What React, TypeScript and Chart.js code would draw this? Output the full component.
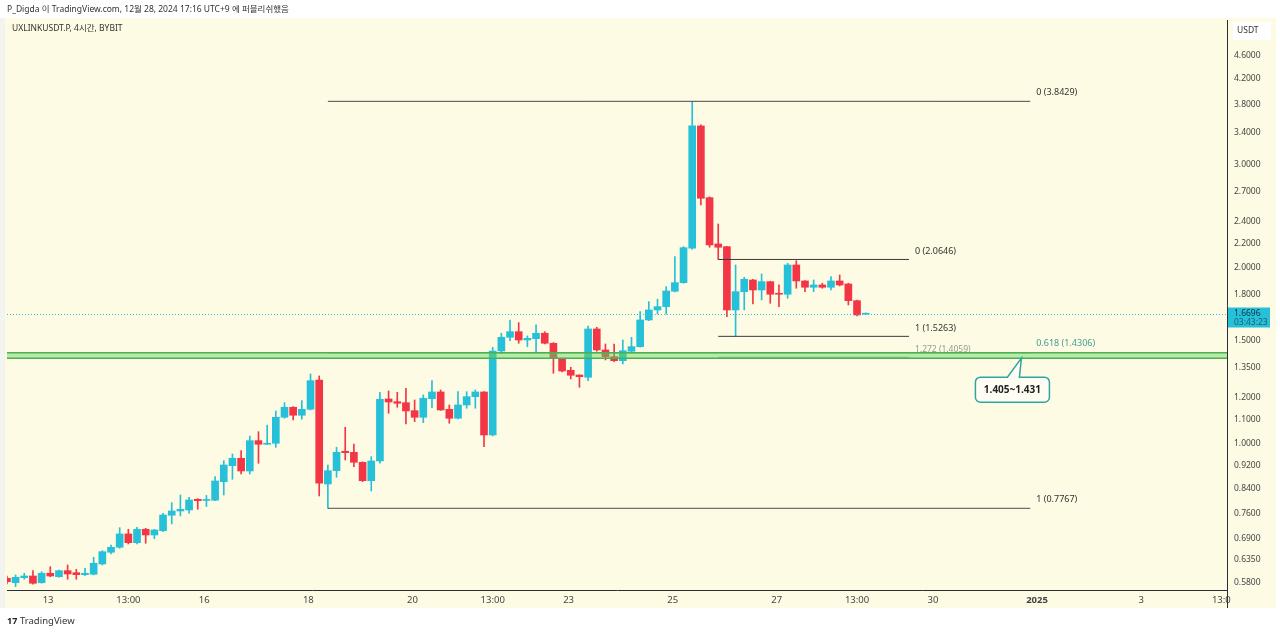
import React, { useEffect, useRef } from "react";
import { Chart, registerables } from "chart.js";

Chart.register(...registerables);

const W = 1280;
const H = 634;
const FONT = "'Noto Sans', 'Noto Sans CJK KR', sans-serif";
const BG = "#fefbe4";
const UP = "#26c0d9";
const DOWN = "#f23645";

// ---- data (4h candles, time in days since Dec 13 00:00 UTC+9) ----
const FIRST_CANDLE_T = -0.7917; // Dec 12 05:00
const CANDLE_STEP = 1 / 6; // 4 hours

const OPEN = [
  0.590, 0.5799, 0.5914, 0.5953, 0.5799, 0.6017, 0.5937, 0.6079, 0.6031, 0.5984,
  0.5993, 0.6241, 0.6534, 0.6664, 0.7022, 0.6786, 0.7152, 0.6994, 0.7113, 0.7557,
  0.7685, 0.7716, 0.8047, 0.8009, 0.8016, 0.8623, 0.9183, 0.9454, 0.8993, 1.0131,
  0.9988, 1.0028, 1.1106, 1.1551, 1.1194, 1.1461, 1.2859, 0.8545, 0.9004, 0.9717,
  0.9679, 0.9306, 0.8657, 0.9354, 1.1934, 1.1808, 1.1762, 1.1398, 1.1106, 1.1948,
  1.2267, 1.1461, 1.1063, 1.1656, 1.2043, 1.2267, 1.0360, 1.4411, 1.5208, 1.5547,
  1.5047, 1.5125, 1.5450, 1.4854, 1.3982, 1.3359, 1.3114, 1.2997, 1.5713, 1.4468,
  1.4092, 1.3872, 1.4394, 1.4657, 1.6278, 1.6931, 1.7152, 1.8221, 1.8848, 2.1576,
  3.4887, 2.6322, 2.1944, 2.1712, 1.6931, 1.8192, 1.9048, 1.8315, 1.8922, 1.8079,
  1.8008, 2.0205, 1.8974, 1.8510, 1.8679, 1.8510, 1.8974, 1.8752, 1.7561, 1.6650,
];
const HIGH = [
  0.595, 0.5977, 0.6017, 0.6079, 0.6054, 0.6175, 0.6095, 0.6216, 0.6112, 0.6136,
  0.6407, 0.6576, 0.6724, 0.7197, 0.7152, 0.7209, 0.7181, 0.7150, 0.7616, 0.7941,
  0.8184, 0.8111, 0.8066, 0.8168, 0.8794, 0.9365, 0.9615, 0.9740, 1.0319, 1.0495,
  1.0775, 1.1385, 1.1762, 1.1580, 1.1855, 1.3166, 1.3063, 0.9208, 0.9871, 1.0678,
  1.0000, 0.9320, 0.9513, 1.2252, 1.2315, 1.2252, 1.2447, 1.1887, 1.2123, 1.2824,
  1.2364, 1.1656, 1.2281, 1.2281, 1.2364, 1.2290, 1.4623, 1.5450, 1.6278, 1.6106,
  1.5287, 1.5962, 1.5547, 1.4889, 1.4000, 1.3517, 1.3120, 1.5899, 1.5818, 1.4813,
  1.4813, 1.5047, 1.5208, 1.6818, 1.7493, 1.7659, 1.8555, 2.0875, 2.1712, 3.8429,
  3.5024, 2.6400, 2.3736, 2.1750, 2.0205, 1.9252, 1.9101, 1.9503, 1.8950, 1.8679,
  2.0340, 2.0549, 1.9000, 1.9048, 1.8803, 1.9298, 1.9427, 1.8803, 1.7608, 1.6730,
];
const LOW = [
  0.577, 0.5708, 0.5877, 0.5767, 0.5785, 0.5937, 0.5923, 0.5877, 0.5877, 0.5960,
  0.5977, 0.6216, 0.6491, 0.6638, 0.6751, 0.6751, 0.6769, 0.6893, 0.7085, 0.7303,
  0.7536, 0.7616, 0.7737, 0.7822, 0.8003, 0.8184, 0.8705, 0.8888, 0.8888, 0.9270,
  0.9980, 0.9871, 1.1063, 1.0989, 1.1019, 1.1429, 0.8152, 0.7767, 0.8774, 0.9391,
  0.9147, 0.8623, 0.8314, 0.9270, 1.1282, 1.1551, 1.0818, 1.0916, 1.0873, 1.1533,
  1.1410, 1.0847, 1.1032, 1.1506, 1.1506, 0.9894, 1.0319, 1.4282, 1.5006, 1.4854,
  1.4657, 1.4282, 1.4813, 1.3202, 1.3270, 1.2910, 1.2496, 1.2824, 1.4394, 1.3911,
  1.3818, 1.3693, 1.4315, 1.4623, 1.6234, 1.6666, 1.6666, 1.8172, 1.8803, 2.1490,
  2.5577, 2.1661, 2.0646, 1.6490, 1.5263, 1.6931, 1.7333, 1.7608, 1.7382, 1.7152,
  1.7728, 1.8438, 1.8192, 1.8192, 1.8438, 1.8315, 1.8605, 1.7267, 1.6537, 1.6630,
];
const CLOSE = [
  0.582, 0.5923, 0.5953, 0.5785, 0.6017, 0.5953, 0.6079, 0.6000, 0.5984, 0.6017,
  0.6258, 0.6550, 0.6664, 0.7022, 0.6786, 0.7152, 0.6994, 0.7133, 0.7566, 0.7685,
  0.7737, 0.8025, 0.8003, 0.8041, 0.8647, 0.9208, 0.9454, 0.8993, 1.0131, 0.9988,
  1.0028, 1.1106, 1.1551, 1.1194, 1.1461, 1.2824, 0.8569, 0.9004, 0.9679, 0.9664,
  0.9306, 0.8657, 0.9354, 1.1920, 1.1794, 1.1734, 1.1385, 1.1106, 1.1967, 1.2267,
  1.1429, 1.1063, 1.1656, 1.2043, 1.2267, 1.0360, 1.4411, 1.5208, 1.5547, 1.5047,
  1.5148, 1.5450, 1.4854, 1.4003, 1.3322, 1.3099, 1.3027, 1.5713, 1.4468, 1.4092,
  1.3872, 1.4428, 1.4657, 1.6278, 1.6931, 1.7152, 1.8243, 1.8848, 2.1626, 3.4887,
  2.6259, 2.1857, 2.1661, 1.6931, 1.8192, 1.9101, 1.8315, 1.8922, 1.8008, 1.8008,
  2.0205, 1.8974, 1.8510, 1.8679, 1.8510, 1.8974, 1.8679, 1.7561, 1.6601, 1.6696,
];

const X_TICK_POS = [0, 1.5417, 3, 5, 7, 8.5417, 10, 12, 14, 15.5417, 17, 19, 21, 22.5417];
const X_TICK_LABELS = ["13", "13:00", "16", "18", "20", "13:00", "23", "25", "27", "13:00", "30", "2025", "3", "13:0"];
const X_MIN = -0.79;
const X_MAX = 22.65;

const Y_TICKS = [0.58, 0.635, 0.69, 0.76, 0.84, 0.92, 1.0, 1.1, 1.2, 1.35, 1.5, 1.8, 2.0, 2.2, 2.4, 2.7, 3.0, 3.4, 3.8, 4.2, 4.6];
const Y_MIN = 0.5634;
const Y_MAX = 5.29;

const LAST_PRICE = 1.6696;
const COUNTDOWN = "03:43:23";

// Fibonacci retracement (big): from swing low candle to end time
const FIB_BIG_START = 37; // candle index
const FIB_BIG_END_T = 18.87;
const FIB_BIG_RATIOS = ["0", "0.618", "1"];
const FIB_BIG_PRICES = [3.8429, 1.4306, 0.7767];

// Fibonacci (small)
const FIB_SMALL_START = 82;
const FIB_SMALL_END_T = 16.54;
const FIB_SMALL_RATIOS = ["0", "1", "1.272"];
const FIB_SMALL_PRICES = [2.0646, 1.5263, 1.4059];

// Support zone
const ZONE_TOP = 1.431;
const ZONE_BOTTOM = 1.401;
const ZONE_LABEL = "1.405~1.431";
const ZONE_CALLOUT_T = 18.7;

const HEADER = "P_Digda 이 TradingView.com, 12월 28, 2024 17:16 UTC+9 에 퍼블리쉬했음";
const TITLE = "UXLINKUSDT.P, 4시간, BYBIT";
const CURRENCY = "USDT";

const candleT = (i: number) => FIRST_CANDLE_T + i * CANDLE_STEP;

export default function App() {
  const ref = useRef<HTMLCanvasElement | null>(null);

  useEffect(() => {
    const canvas = ref.current;
    if (!canvas) return;
    const colors = OPEN.map((o, i) => (CLOSE[i] >= o ? UP : DOWN));
    const wicks = OPEN.map((_, i) => ({ x: candleT(i), y: [LOW[i], HIGH[i]] }));
    const bodies = OPEN.map((o, i) => ({ x: candleT(i), y: [o, CLOSE[i]] }));

    const lineDs = (from: number, to: number, p: number, color: string) => ({
      type: "line" as const,
      data: [
        { x: from, y: p },
        { x: to, y: p },
      ],
      borderColor: color,
      borderWidth: 1,
      pointRadius: 0,
      fill: false,
      order: 0,
    });

    const fibDatasets: any[] = [];
    FIB_BIG_PRICES.forEach((p, i) =>
      fibDatasets.push(lineDs(candleT(FIB_BIG_START), FIB_BIG_END_T, p, FIB_BIG_RATIOS[i] === "0.618" ? "#4caf8a" : "#4a4a4a"))
    );
    FIB_SMALL_PRICES.forEach((p, i) =>
      fibDatasets.push(lineDs(candleT(FIB_SMALL_START), FIB_SMALL_END_T, p, FIB_SMALL_RATIOS[i] === "1.272" ? "#9aae9a" : "#3a3a3a"))
    );

    const decor = {
      id: "decor",
      beforeDraw(chart: any) {
        const { ctx } = chart;
        ctx.save();
        ctx.fillStyle = "#ffffff";
        ctx.fillRect(0, 0, W, H);
        ctx.fillStyle = "#f3f3ef";
        ctx.fillRect(0, 18, 7, 590);
        ctx.fillStyle = BG;
        ctx.fillRect(5, 18, 1271, 590);
        ctx.restore();
      },
      afterDatasetsDraw(chart: any) {
        const { ctx, chartArea: a, scales } = chart;
        const y = scales.y;
        ctx.save();
        // zone band
        const yt = y.getPixelForValue(ZONE_TOP);
        const yb = y.getPixelForValue(ZONE_BOTTOM);
        ctx.fillStyle = "rgba(100,215,100,0.45)";
        ctx.fillRect(a.left, yt, a.right - a.left, yb - yt);
        ctx.strokeStyle = "#4caf50";
        ctx.lineWidth = 1.5;
        ctx.beginPath();
        ctx.moveTo(a.left, yt);
        ctx.lineTo(a.right, yt);
        ctx.moveTo(a.left, yb);
        ctx.lineTo(a.right, yb);
        ctx.stroke();
        // last price dotted line
        const yl = Math.round(y.getPixelForValue(LAST_PRICE)) + 0.5;
        ctx.strokeStyle = UP;
        ctx.lineWidth = 1;
        ctx.setLineDash([1, 2]);
        ctx.beginPath();
        ctx.moveTo(a.left, yl);
        ctx.lineTo(a.right, yl);
        ctx.stroke();
        ctx.restore();
      },
      afterDraw(chart: any) {
        const { ctx, chartArea: a, scales } = chart;
        const x = scales.x;
        const y = scales.y;
        ctx.save();
        // axis extension line
        ctx.strokeStyle = "#2a2e39";
        ctx.lineWidth = 1;
        ctx.beginPath();
        ctx.moveTo(a.right + 0.5, a.bottom);
        ctx.lineTo(a.right + 0.5, 608);
        ctx.stroke();

        ctx.textBaseline = "middle";
        ctx.textAlign = "left";
        // header
        ctx.fillStyle = "#333";
        ctx.font = `8.5px ${FONT}`;
        ctx.fillText(HEADER, 7, 10);
        ctx.fillText(TITLE, 12, 29);

        // fib labels
        ctx.font = `9px ${FONT}`;
        FIB_BIG_PRICES.forEach((p, i) => {
          const px = x.getPixelForValue(FIB_BIG_END_T) + 6;
          const py = y.getPixelForValue(p) - 9;
          ctx.fillStyle = FIB_BIG_RATIOS[i] === "0.618" ? "#3f9c95" : "#333";
          ctx.fillText(`${FIB_BIG_RATIOS[i]} (${p.toFixed(4)})`, px, py);
        });
        FIB_SMALL_PRICES.forEach((p, i) => {
          const px = x.getPixelForValue(FIB_SMALL_END_T) + 6;
          const py = y.getPixelForValue(p) - 8;
          ctx.fillStyle = FIB_SMALL_RATIOS[i] === "1.272" ? "#8fa08f" : "#333";
          ctx.font = FIB_SMALL_RATIOS[i] === "1.272" ? `8.5px ${FONT}` : `9px ${FONT}`;
          ctx.fillText(`${FIB_SMALL_RATIOS[i]} (${p.toFixed(4)})`, px, py);
        });

        // callout
        const ax = x.getPixelForValue(ZONE_CALLOUT_T);
        const ay = y.getPixelForValue(ZONE_BOTTOM);
        const left = ax - 46;
        const right = ax + 28;
        const top = ay + 19;
        const bottom = ay + 44;
        const r = 5;
        ctx.beginPath();
        ctx.moveTo(left + r, top);
        ctx.lineTo(ax - 14, top);
        ctx.lineTo(ax, ay);
        ctx.lineTo(ax - 2, top);
        ctx.lineTo(right - r, top);
        ctx.arcTo(right, top, right, top + r, r);
        ctx.lineTo(right, bottom - r);
        ctx.arcTo(right, bottom, right - r, bottom, r);
        ctx.lineTo(left + r, bottom);
        ctx.arcTo(left, bottom, left, bottom - r, r);
        ctx.lineTo(left, top + r);
        ctx.arcTo(left, top, left + r, top, r);
        ctx.closePath();
        ctx.fillStyle = "#fffdf3";
        ctx.fill();
        ctx.strokeStyle = "#2ea5a2";
        ctx.lineWidth = 1.5;
        ctx.stroke();
        ctx.fillStyle = "#222";
        ctx.font = `bold 10px ${FONT}`;
        ctx.textAlign = "center";
        ctx.fillText(ZONE_LABEL, (left + right) / 2, (top + bottom) / 2 + 0.5);

        // currency box
        ctx.textAlign = "left";
        ctx.fillStyle = "#ffffff";
        ctx.beginPath();
        ctx.rect(1233, 22, 38, 18);
        ctx.fill();
        ctx.fillStyle = "#333";
        ctx.font = `8.5px ${FONT}`;
        ctx.fillText(CURRENCY, 1237, 31);

        // last price tag
        const yl = y.getPixelForValue(LAST_PRICE);
        ctx.fillStyle = UP;
        ctx.fillRect(a.right + 1, yl - 6, 42, 20);
        ctx.fillStyle = "#0d3440";
        ctx.font = `8.5px ${FONT}`;
        ctx.fillText(LAST_PRICE.toFixed(4), 1234, yl);
        ctx.fillStyle = "#1b6070";
        ctx.fillText(COUNTDOWN, 1234, yl + 9);

        // footer
        ctx.fillStyle = "#222";
        ctx.font = `bold 9px ${FONT}`;
        ctx.fillText("17", 7, 621);
        ctx.fillStyle = "#333";
        ctx.font = `9.5px ${FONT}`;
        ctx.fillText("TradingView", 20, 621);
        ctx.restore();
      },
    };

    const chart = new Chart(canvas, {
      type: "bar",
      data: {
        datasets: [
          {
            data: wicks as any,
            backgroundColor: colors,
            barThickness: 1,
            grouped: false,
            borderWidth: 0,
            order: 2,
          } as any,
          {
            data: bodies as any,
            backgroundColor: colors,
            barThickness: 7,
            minBarLength: 1,
            grouped: false,
            borderWidth: 0,
            order: 1,
          } as any,
          ...fibDatasets,
        ],
      },
      options: {
        responsive: false,
        animation: false,
        events: [],
        layout: { padding: { left: 7, top: 20, right: 5, bottom: 27 } },
        plugins: { legend: { display: false }, tooltip: { enabled: false } },
        scales: {
          x: {
            type: "linear",
            min: X_MIN,
            max: X_MAX,
            offset: false,
            grid: { display: false, drawTicks: false },
            border: { display: true, color: "#2a2e39", width: 1 },
            ticks: {
              autoSkip: false,
              maxRotation: 0,
              padding: 5,
              color: "#444",
              font: (c: any) => ({
                size: 9.5,
                family: FONT,
                weight: c.tick && c.tick.label === "2025" ? "bold" : "normal",
              }),
              callback: (v: any) => {
                const i = X_TICK_POS.findIndex((p) => Math.abs(p - Number(v)) < 1e-6);
                return i >= 0 ? X_TICK_LABELS[i] : "";
              },
            },
            afterBuildTicks: (s: any) => {
              s.ticks = X_TICK_POS.map((v) => ({ value: v }));
            },
            afterFit: (s: any) => {
              s.height = 17;
            },
          },
          y: {
            type: "logarithmic",
            position: "right",
            min: Y_MIN,
            max: Y_MAX,
            grid: { display: false, drawTicks: false },
            border: { display: true, color: "#2a2e39", width: 1 },
            ticks: {
              autoSkip: false,
              padding: 7,
              color: "#444",
              font: { size: 8.5, family: FONT },
              callback: (v: any) => Number(v).toFixed(4),
            },
            afterBuildTicks: (s: any) => {
              s.ticks = Y_TICKS.map((v) => ({ value: v }));
            },
            afterFit: (s: any) => {
              s.width = 48;
            },
          },
        },
      },
      plugins: [decor],
    } as any);

    return () => chart.destroy();
  }, []);

  return (
    <div style={{ position: "fixed", left: 0, top: 0, width: W, height: H, background: "#fff" }}>
      <canvas ref={ref} width={W} height={H} style={{ display: "block", width: W, height: H }} />
    </div>
  );
}
